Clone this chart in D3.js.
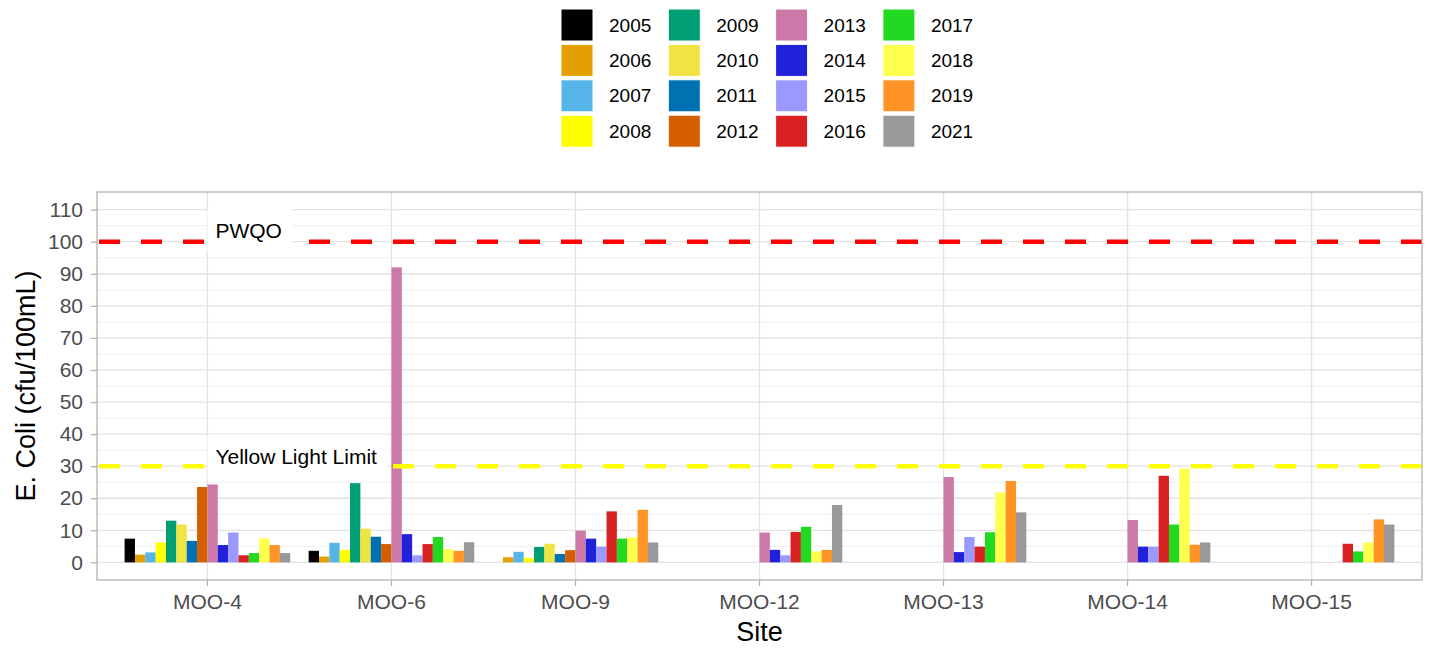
<!DOCTYPE html>
<html>
<head>
  <meta charset="utf-8">
  <title>E. Coli by site</title>
  <style>
    body { margin: 0; background: #fff; }
    text { font-family: "Liberation Sans", Arial, sans-serif; }
  </style>
</head>
<body>
  <script src="https://d3js.org/d3.v7.min.js"></script>
  <script>
  // data
  const sites = ["MOO-4", "MOO-6", "MOO-9", "MOO-12", "MOO-13", "MOO-14", "MOO-15"];
  const years = ["2005", "2006", "2007", "2008", "2009", "2010", "2011", "2012",
                 "2013", "2014", "2015", "2016", "2017", "2018", "2019", "2021"];
  const yearColors = ["#000000", "#E69F00", "#56B4E9", "#FFFF00", "#009E73", "#F0E442",
                      "#0072B2", "#D55E00", "#CC79A7", "#2121D9", "#9999FF", "#D92121",
                      "#21D921", "#FFFF4D", "#FF9326", "#999999"];

  const moo4  = [7.4, 2.4, 3.1, 6.2, 13.0, 11.8, 6.7, 23.5, 24.3, 5.4, 9.3, 2.2, 2.9, 7.5, 5.4, 2.9];
  const moo6  = [3.6, 1.8, 6.1, 3.9, 24.7, 10.5, 8.0, 5.7, 92.0, 8.8, 2.2, 5.7, 7.9, 4.1, 3.6, 6.3];
  const moo9  = [null, 1.6, 3.3, 1.4, 4.8, 5.8, 2.6, 3.8, 9.9, 7.4, 4.9, 15.9, 7.4, 7.8, 16.4, 6.2];
  const moo12 = [null, null, null, null, null, null, null, null, 9.3, 3.9, 2.2, 9.5, 11.1, 3.4, 3.9, 17.9];
  const moo13 = [null, null, null, null, null, null, null, null, 26.6, 3.2, 7.9, 4.9, 9.4, 21.8, 25.4, 15.6];
  const moo14 = [null, null, null, null, null, null, null, null, 13.2, 4.9, 4.9, 27.0, 11.8, 29.2, 5.5, 6.2];
  const moo15 = [null, null, null, null, null, null, null, null, null, null, null, 5.8, 3.4, 6.2, 13.4, 11.8];
  const siteValues = [moo4, moo6, moo9, moo12, moo13, moo14, moo15];

  const yTicks = [0, 10, 20, 30, 40, 50, 60, 70, 80, 90, 100, 110];
  const yMinor = [5, 15, 25, 35, 45, 55, 65, 75, 85, 95, 105];

  const limits = [
    { name: "PWQO", value: 100, color: "#FF0000", labelAt: 103.4 },
    { name: "Yellow Light Limit", value: 30, color: "#FFFF00", labelAt: 33 }
  ];

  const rows = [];
  siteValues.forEach((vals, i) => {
    vals.forEach((v, j) => {
      if (v !== null) rows.push({ site: sites[i], year: years[j], value: v });
    });
  });

  const W = 1430, H = 656;
  const margin = { top: 192, right: 8, bottom: 76, left: 97 };

  const svg = d3.select("body").append("svg")
    .attr("width", W)
    .attr("height", H);

  const x = d3.scaleBand()
    .domain(sites)
    .range([margin.left, W - margin.right])
    .paddingInner(0.1)
    .paddingOuter(0.15);

  const xYear = d3.scaleBand()
    .domain(years)
    .range([0, x.bandwidth()]);

  const y = d3.scaleLinear()
    .domain([-5.5, 115.5])
    .range([H - margin.bottom, margin.top]);

  const color = d3.scaleOrdinal().domain(years).range(yearColors);

  // grid
  const grid = svg.append("g");
  grid.selectAll("line.minor")
    .data(yMinor)
    .join("line")
    .attr("x1", margin.left).attr("x2", W - margin.right)
    .attr("y1", d => y(d)).attr("y2", d => y(d))
    .attr("stroke", "#EBEBEB").attr("stroke-width", 0.8);
  grid.selectAll("line.major")
    .data(yTicks)
    .join("line")
    .attr("x1", margin.left).attr("x2", W - margin.right)
    .attr("y1", d => y(d)).attr("y2", d => y(d))
    .attr("stroke", "#E2E2E2").attr("stroke-width", 1.3);
  grid.selectAll("line.vmajor")
    .data(sites)
    .join("line")
    .attr("x1", d => x(d) + x.bandwidth() / 2).attr("x2", d => x(d) + x.bandwidth() / 2)
    .attr("y1", margin.top).attr("y2", H - margin.bottom)
    .attr("stroke", "#E2E2E2").attr("stroke-width", 1.3);

  // bars
  svg.append("g")
    .selectAll("rect")
    .data(rows)
    .join("rect")
    .attr("x", d => x(d.site) + xYear(d.year))
    .attr("width", xYear.bandwidth())
    .attr("y", d => y(d.value))
    .attr("height", d => y(0) - y(d.value))
    .attr("fill", d => color(d.year));

  // threshold lines
  svg.append("g")
    .selectAll("line")
    .data(limits)
    .join("line")
    .attr("x1", margin.left).attr("x2", W - margin.right)
    .attr("y1", d => y(d.value)).attr("y2", d => y(d.value))
    .attr("stroke", d => d.color)
    .attr("stroke-width", 4.5)
    .attr("stroke-dasharray", "21,21")
    .attr("stroke-dashoffset", -2);

  // labels with white box
  const lab = svg.append("g")
    .selectAll("g")
    .data(limits)
    .join("g")
    .attr("transform", d => `translate(${x(sites[0]) + x.bandwidth() / 2},${y(d.labelAt)})`);
  const labText = lab.append("text")
    .attr("x", 8)
    .attr("dy", "0.35em")
    .attr("font-size", 21)
    .attr("fill", "#000")
    .text(d => d.name);
  lab.insert("rect", "text")
    .attr("x", 0)
    .attr("y", -22)
    .attr("height", 44)
    .attr("width", function(d, i) { return labText.nodes()[i].getComputedTextLength() + 18; })
    .attr("fill", "#fff");

  // panel border
  svg.append("rect")
    .attr("x", margin.left).attr("y", margin.top)
    .attr("width", W - margin.left - margin.right)
    .attr("height", H - margin.top - margin.bottom)
    .attr("fill", "none")
    .attr("stroke", "#B3B3B3")
    .attr("stroke-width", 1.3);

  // axes
  const yAxis = svg.append("g")
    .attr("transform", `translate(${margin.left},0)`)
    .call(d3.axisLeft(y).tickValues(yTicks).tickSize(6).tickPadding(8));
  const xAxis = svg.append("g")
    .attr("transform", `translate(0,${H - margin.bottom})`)
    .call(d3.axisBottom(x).tickSize(6).tickPadding(8));
  [yAxis, xAxis].forEach(ax => {
    ax.select(".domain").remove();
    ax.selectAll(".tick line").attr("stroke", "#B3B3B3").attr("stroke-width", 1.3);
    ax.selectAll(".tick text")
      .attr("fill", "#4D4D4D")
      .attr("font-size", 21)
      .attr("font-family", "Liberation Sans, Arial, sans-serif");
  });

  svg.append("text")
    .attr("x", (margin.left + W - margin.right) / 2)
    .attr("y", 641)
    .attr("text-anchor", "middle")
    .attr("font-size", 27)
    .text("Site");

  svg.append("text")
    .attr("transform", `translate(35,${(margin.top + H - margin.bottom) / 2}) rotate(-90)`)
    .attr("text-anchor", "middle")
    .attr("font-size", 27)
    .text("E. Coli (cfu/100mL)");

  // legend, 4 rows filled by column
  const legend = svg.append("g").attr("transform", "translate(561,9)");
  const item = legend.selectAll("g")
    .data(years)
    .join("g")
    .attr("transform", (d, i) => `translate(${Math.floor(i / 4) * 107.3},${(i % 4) * 35.4})`);
  item.append("rect")
    .attr("width", 32).attr("height", 32)
    .attr("fill", d => color(d))
    .attr("stroke", "#fff")
    .attr("stroke-width", 1);
  item.append("text")
    .attr("x", 48)
    .attr("y", 16)
    .attr("dy", "0.35em")
    .attr("font-size", 19)
    .text(d => d);
  </script>
</body>
</html>
